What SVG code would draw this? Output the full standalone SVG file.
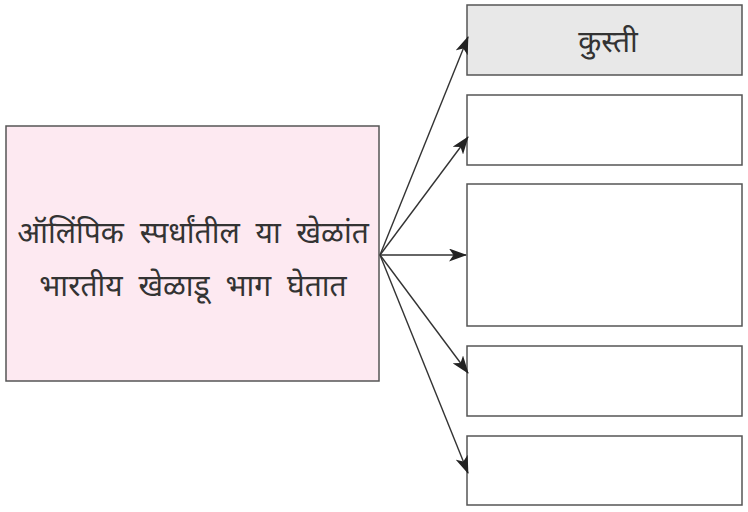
<svg xmlns="http://www.w3.org/2000/svg" width="748" height="512" viewBox="0 0 748 512">
<style>
.box{stroke:#555;stroke-width:1.5}
.t{font-family:"Noto Sans","Noto Sans Devanagari","Lohit Devanagari",sans-serif;fill:#333;text-anchor:middle}
.c{stroke:#333;stroke-width:1.4;fill:none;marker-end:url(#ah)}
</style>
<defs>
<marker id="ah" markerWidth="18" markerHeight="13" refX="17" refY="6.5" orient="auto" markerUnits="userSpaceOnUse">
<path d="M0,0 L18,6.5 L0,13 L4.5,6.5 Z" fill="#222"/>
</marker>
</defs>
<g id="source">
<rect class="box" x="6" y="126" width="373" height="255" fill="#fde9f1"/>
<text class="t" x="193" y="243" font-size="30" word-spacing="8">ऑलिंपिक स्पर्धांतील या खेळांत</text>
<text class="t" x="193" y="296" font-size="30" word-spacing="8">भारतीय खेळाडू भाग घेतात</text>
</g>
<g id="n1">
<rect class="box" x="467" y="5" width="275" height="70" fill="#e8e8e8"/>
<text class="t" x="608" y="52" font-size="30">कुस्ती</text>
</g>
<g id="n2"><rect class="box" x="467" y="95" width="275" height="70" fill="#fff"/></g>
<g id="n3"><rect class="box" x="467" y="184" width="275" height="142" fill="#fff"/></g>
<g id="n4"><rect class="box" x="467" y="346" width="275" height="70" fill="#fff"/></g>
<g id="n5"><rect class="box" x="467" y="436" width="275" height="69" fill="#fff"/></g>
<g id="connectors">
<line class="c" x1="380" y1="255" x2="468" y2="37"/>
<line class="c" x1="380" y1="255" x2="468" y2="137"/>
<line class="c" x1="380" y1="255" x2="466" y2="255"/>
<line class="c" x1="380" y1="255" x2="468" y2="373"/>
<line class="c" x1="380" y1="255" x2="468" y2="473"/>
</g>
</svg>
